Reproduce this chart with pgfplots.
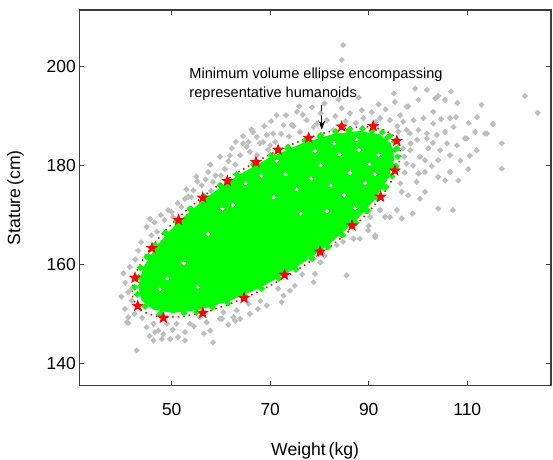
\documentclass[border=0pt]{standalone}
\usepackage{fontspec}
\setmainfont{Liberation Sans}
\usepackage{pgfplots}
\pgfplotsset{compat=1.18}
\usetikzlibrary{arrows.meta}
\definecolor{ptgray}{RGB}{190,190,190}
\definecolor{ptgreen}{RGB}{0,255,0}
\definecolor{ptred}{RGB}{255,0,0}
\definecolor{axgray}{RGB}{60,60,60}
\pgfdeclareplotmark{fstar}{%
  \pgfpathmoveto{\pgfpointpolar{90}{\pgfplotmarksize}}%
  \pgfpathlineto{\pgfpointpolar{126}{0.42\pgfplotmarksize}}%
  \pgfpathlineto{\pgfpointpolar{162}{\pgfplotmarksize}}%
  \pgfpathlineto{\pgfpointpolar{198}{0.42\pgfplotmarksize}}%
  \pgfpathlineto{\pgfpointpolar{234}{\pgfplotmarksize}}%
  \pgfpathlineto{\pgfpointpolar{270}{0.42\pgfplotmarksize}}%
  \pgfpathlineto{\pgfpointpolar{306}{\pgfplotmarksize}}%
  \pgfpathlineto{\pgfpointpolar{342}{0.42\pgfplotmarksize}}%
  \pgfpathlineto{\pgfpointpolar{18}{\pgfplotmarksize}}%
  \pgfpathlineto{\pgfpointpolar{54}{0.42\pgfplotmarksize}}%
  \pgfpathclose
  \pgfusepathqfill
}
\begin{document}
\begin{tikzpicture}
\useasboundingbox (-79.3bp,-74.3bp) rectangle (473.7bp,385.7bp);
\begin{axis}[
  scale only axis, width=471.7bp, height=375.7bp,
  xmin=31.24, xmax=127, ymin=135.46, ymax=211.5,
  xtick={50,70,90,110}, ytick={140,160,180,200},
  tick align=inside, tick pos=both,
  major tick length=5bp,
  axis line style={axgray, line width=1.2bp},
  every tick/.style={axgray, line width=1.2bp},
  /pgf/number format/assume math mode=true,
  ticklabel style={font=\fontsize{17.5}{20}\selectfont},
  xticklabel style={anchor=base, yshift=-29.3bp},
  xlabel={Weight\,(kg)}, ylabel={Stature\,(cm)},
  label style={font=\fontsize{17.7}{20}\selectfont},
  xlabel style={at={(axis description cs:0.5,-0.1845)}, anchor=base},
  ylabel style={at={(axis description cs:-0.1257,0.5)}, anchor=base},
]
% gray: all measurements outside the ellipse
\addplot[only marks, mark=square*, mark size=2bp, color=ptgray, mark options={rotate=45, line width=0.3bp}] coordinates {
(50.0,170.6)(50.3,169.6)(52.0,171.6)(52.7,173.3)(53.4,173.7)(54.4,175.0)(56.1,176.0)(58.4,176.7)
(57.4,178.7)(59.8,181.8)(62.2,183.5)(63.9,182.1)(65.2,183.8)(65.6,184.8)(64.5,186.0)(67.3,185.8)
(67.3,182.1)(67.9,184.5)(69.3,186.2)(70.6,186.5)(70.0,184.1)(72.7,188.2)(71.3,190.2)(73.2,190.2)
(74.7,188.0)(75.4,190.9)(77.4,189.2)(44.9,167.6)(47.0,166.6)(49.3,171.0)(45.9,165.9)(43.8,164.5)
(42.6,161.0)(41.5,159.5)(48.5,169.0)(46.5,168.5)(64.5,184.5)(65.9,182.8)(68.6,184.8)(69.6,183.2)
(71.0,184.8)(74.4,188.2)(56.9,177.2)(55.2,176.8)(60.8,179.3)(61.5,180.9)(58.9,178.0)(62.9,180.2)
(66.2,187.3)(76.0,186.8)(72.2,186.4)(78.8,187.8)(81.5,189.2)(82.8,187.2)(84.5,191.6)(86.2,190.6)
(88.6,191.2)(88.9,189.6)(92.3,189.6)(94.3,189.2)(96.4,190.2)(97.0,188.9)(99.1,189.2)(101.1,189.6)
(103.1,188.5)(106.5,189.6)(107.2,187.8)(109.5,185.5)(114.0,186.5)(100.1,187.2)(97.7,187.2)(101.8,185.5)
(95.3,192.9)(97.7,191.9)(100.1,193.3)(99.4,195.6)(101.8,195.3)(103.5,193.6)(105.5,193.3)(112.9,192.3)
(84.8,204.4)(84.5,201.4)(104.1,194.1)(98.0,192.0)(103.1,190.9)(107.7,189.8)(104.7,189.4)(121.7,194.1)
(124.3,190.7)(117.0,184.5)(117.0,179.4)(80.2,190.6)(85.3,189.0)(90.6,190.8)(93.4,191.4)(87.4,188.6)
(91.5,188.9)(95.8,188.0)(79.5,188.5)(83.2,190.0)
(51.2,172.4)(53.0,175.2)(55.0,177.8)(57.8,180.2)(60.0,178.0)(61.8,182.0)(63.0,184.8)(66.5,186.8)
(68.8,188.0)(70.2,189.0)(75.9,192.0)(78.5,191.8)(76.6,190.3)(73.8,185.9)(58.0,174.9)(54.0,173.6)
(47.8,170.0)(45.6,169.2)(43.2,162.8)(40.2,158.2)(83.9,193.4)(81.0,192.6)(88.0,193.8)(92.0,192.4)
(95.1,194.6)(110.3,188.6)(112.0,189.8)(115.2,188.4)(108.0,192.7)(106.7,195.0)
(98.4,186.5)(101.8,186.5)(103.8,186.2)(105.5,186.8)(109.9,185.5)(111.6,186.8)(113.6,186.5)(111.9,183.1)
(107.9,184.1)(106.5,182.1)(104.5,183.1)(102.1,183.5)(98.4,183.1)(100.4,181.8)(97.7,180.4)(101.4,181.1)
(104.1,181.1)(106.5,178.7)(108.2,177.0)(105.5,177.0)(104.1,177.7)(101.4,178.7)(100.1,178.4)(99.7,176.7)
(101.4,174.7)(100.4,173.3)(98.0,174.0)(96.7,174.7)(96.4,176.4)(95.7,171.0)(96.7,169.3)(94.3,169.6)
(93.3,169.6)(92.3,171.0)(90.3,169.6)(89.9,166.9)(91.3,165.5)(88.2,165.2)(98.9,170.3)(104.1,171.3)
(107.1,171.0)(97.3,178.6)(99.0,180.0)(102.8,179.9)(103.0,184.6)(105.9,184.5)(108.6,181.0)(110.2,179.3)
(98.5,184.5)(99.8,185.2)(97.0,183.5)(97.2,181.8)(110.5,182.0)(96.0,186.9)
(78.1,161.2)(83.5,163.9)(86.9,165.2)(91.3,165.9)(78.8,156.4)(79.1,158.1)(85.5,157.8)(75.0,155.7)
(74.0,154.7)(72.7,153.7)(72.3,152.4)(71.6,155.1)(69.3,151.7)(65.6,152.0)(65.9,150.0)(62.9,148.6)
(60.2,149.0)(81.0,161.8)(84.8,164.6)(90.0,167.8)(76.5,158.0)(80.2,160.4)(67.5,151.0)(68.0,152.6)
(41.2,149.3)(41.2,148.1)(42.5,150.0)(44.9,147.3)(46.3,148.0)(46.6,146.3)(47.3,146.6)(48.3,145.9)
(46.3,144.6)(48.0,144.9)(49.7,144.9)(51.3,145.3)(52.7,144.6)(42.9,142.6)(49.0,148.0)(51.0,148.0)
(52.7,146.3)(53.7,148.0)(57.8,146.6)(58.4,144.2)(55.7,149.3)(57.1,148.3)(59.8,149.0)(60.5,150.3)
(62.5,149.3)(63.9,149.0)(63.2,150.7)(41.9,155.1)(41.2,154.4)(41.9,152.7)(40.9,148.3)(40.5,151.0)
(39.8,153.5)(40.6,156.3)(44.0,149.2)(54.5,147.5)(56.5,146.0)(50.2,146.8)(45.5,145.5)(61.5,147.8)
};
% green: dense core inside the ellipse
\addplot[draw=none, fill=ptgreen] coordinates {
(94.55,184.44)(92.17,186.33)(88.21,187.01)(82.98,186.43)(76.80,184.64)(70.11,181.76)
(63.35,177.97)(56.99,173.55)(51.46,168.79)(47.15,164.03)(44.32,159.57)(43.20,155.72)
(43.85,152.76)(46.23,150.87)(50.19,150.19)(55.42,150.77)(61.60,152.56)(68.29,155.44)
(75.05,159.23)(81.41,163.65)(86.94,168.41)(91.25,173.17)(94.08,177.63)(95.20,181.48)(94.55,184.44)
};
\addplot[only marks, mark=square*, mark size=2.2bp, color=ptgreen, mark options={rotate=45, line width=0.3bp}] coordinates {
(93.83,185.72)(90.60,187.03)(85.91,187.08)(80.10,185.87)(73.54,183.49)(66.68,180.08)
(59.98,175.91)(53.92,171.22)(48.91,166.36)(45.28,161.66)(43.26,157.43)(43.02,153.95)
(44.57,151.48)(47.80,150.17)(52.49,150.12)(58.30,151.33)(64.86,153.71)(71.72,157.12)
(78.42,161.29)(84.48,165.98)(89.49,170.84)(93.12,175.54)(95.14,179.77)(95.38,183.25)
(95.21,184.86)(94.21,185.99)(92.77,186.80)(90.94,187.32)(88.71,187.49)(86.17,187.37)
(83.34,186.90)(80.27,186.14)(77.00,185.06)(73.61,183.72)(70.13,182.10)(66.64,180.26)
(63.19,178.21)(59.84,176.02)(56.67,173.68)(53.69,171.26)(50.99,168.80)(48.59,166.33)
(46.57,163.91)(44.91,161.55)(43.67,159.33)(42.86,157.25)(42.51,155.38)
(47.46,149.88)(55.06,150.30)(61.40,152.14)(68.27,155.10)
(75.21,158.99)(78.56,161.18)(81.73,163.52)(84.71,165.94)(87.41,168.40)(89.81,170.87)
(91.83,173.29)(93.49,175.65)(94.73,177.87)(95.54,179.95)(95.89,181.82)(95.79,183.49)
};
% gaps in the dense core
\addplot[only marks, mark=square*, mark size=1.1bp, color=white, mark options={rotate=45, line width=0bp}] coordinates {
(80.2,180.1)(84.1,182.3)(88.0,183.2)(78.3,177.4)(86.2,178.6)(90.1,180.4)(75.4,175.2)(82.3,176.0)
(73.1,178.3)(68.2,178.0)(85.0,174.1)(89.3,176.5)(92.0,182.2)(79.1,183.0)(62.4,172.1)(76.2,170.3)
(81.5,170.9)(87.2,171.4)(71.3,181.0)(65.0,176.4)(52.4,160.3)(49.1,157.2)(47.6,155.0)(55.3,155.4)
(83.0,184.5)(87.6,185.3)(91.2,178.3)(60.3,171.3)(57.4,166.2)(70.7,173.6)
};
% minimum volume ellipse
\addplot[ptred, line width=1.5bp, dash pattern=on 1.5bp off 4bp] coordinates {
(95.74,185.19)(94.72,186.34)(93.25,187.17)(91.38,187.70)(89.11,187.88)(86.52,187.75)
(83.63,187.27)(80.50,186.50)(77.16,185.40)(73.70,184.03)(70.15,182.38)(66.59,180.50)
(63.07,178.41)(59.65,176.17)(56.41,173.78)(53.37,171.31)(50.62,168.80)(48.17,166.28)
(46.11,163.81)(44.41,161.41)(43.15,159.14)(42.32,157.02)(41.97,155.11)(42.07,153.42)
(42.66,152.01)(43.68,150.86)(45.15,150.03)(47.02,149.50)(49.29,149.32)(51.88,149.45)
(54.77,149.93)(57.90,150.70)(61.24,151.80)(64.70,153.17)(68.25,154.82)(71.81,156.70)
(75.33,158.79)(78.75,161.03)(81.99,163.42)(85.03,165.89)(87.78,168.40)(90.23,170.92)
(92.29,173.39)(93.99,175.79)(95.25,178.06)(96.08,180.18)(96.43,182.09)(96.33,183.78)
(95.74,185.19)
};
% representative humanoids on the ellipse
\addplot[only marks, mark=fstar, mark size=6.5bp, color=ptred] coordinates {
(42.55,157.3)(43.1,151.6)(46.0,163.3)(48.3,149.2)(51.4,169.0)(56.3,150.2)(56.3,173.5)
(61.3,176.9)(64.7,153.2)(67.1,180.7)(71.6,183.2)(72.9,157.9)(77.8,185.6)(80.1,162.6)
(84.5,187.9)(86.6,167.9)(90.9,188.0)(92.4,173.7)(95.3,179.0)(95.7,185.0)
};
\node[anchor=west, align=left, inner sep=0pt, font=\fontsize{14.6}{18.3}\selectfont]
  at (axis cs:53.57,196.47) {Minimum volume ellipse encompassing\\representative humanoids};
\draw[-{Stealth[length=9bp,width=7bp]}, line width=1bp] (axis cs:80.46,192.25) -- (axis cs:80.46,187.3);
\end{axis}
\end{tikzpicture}
\end{document}
